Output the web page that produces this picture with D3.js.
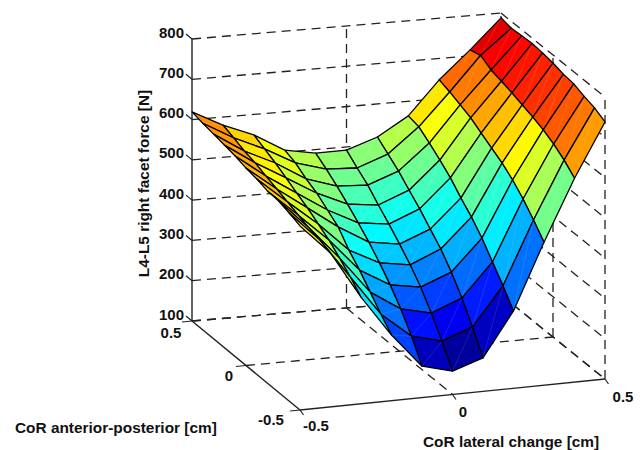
<!DOCTYPE html>
<html><head><meta charset="utf-8">
<script src="https://cdn.jsdelivr.net/npm/d3@7"></script>
<style>html,body{margin:0;padding:0;background:#fff}svg{display:block}text{font-family:"Liberation Sans",Arial,sans-serif;font-weight:bold;fill:#111}</style>
</head><body><svg id="c" width="642" height="450"></svg>
<script>
// Grid values
const lateral = [-0.5,-0.4,-0.3,-0.2,-0.1,0,0.1,0.2,0.3,0.4,0.5];
const anterior = [0.5,0.4,0.3,0.2,0.1,0,-0.1,-0.2,-0.3,-0.4,-0.5];
// facet force [N]: one row per lateral value, entries follow `anterior`
const force = [
 [619,613,608,603,598,590,585,577,575,567,557],
 [580,570,559,552,541,531,521,510,500,492,482],
 [549,536,523,508,492,477,459,441,418,393,365],
 [505,495,477,463,443,423,387,359,326,293,263],
 [491,473,452,429,404,378,348,315,277,231,178],
 [492,469,448,420,394,366,336,302,259,211,158],
 [518,497,476,450,425,396,368,332,289,238,183],
 [564,558,539,518,495,466,440,409,371,333,292],
 [647,638,627,616,599,583,567,546,520,489,455],
 [715,722,707,700,692,683,674,663,649,630,606],
 [788,783,785,787,784,780,773,770,760,752,738]
];
const colorLimits = [140,785];
const zTicks = [100,200,300,400,500,600,700,800];
const xTicks = [-0.5,0,0.5];
const yTicks = [-0.5,0,0.5];
const tickText = ["-0.5","0","0.5"];

const svg = d3.select("#c");
// floor corners of the 3-D box on screen
const BL=[192,321], FL=[300,410], FR=[605,379], BR=[501,295];
const sx = d3.scaleLinear().domain([-0.5,0.5]).range([0,1]);
const sy = d3.scaleLinear().domain([0.5,-0.5]).range([0,1]);
const sz = d3.scaleLinear().domain([100,800]).range([0,282]);
function project(x,y,z){
  const u=sx(x), v=sy(y);
  const px=(1-u)*(1-v)*BL[0]+u*(1-v)*BR[0]+(1-u)*v*FL[0]+u*v*FR[0];
  const py=(1-u)*(1-v)*BL[1]+u*(1-v)*BR[1]+(1-u)*v*FL[1]+u*v*FR[1];
  return [px,py-sz(z)];
}
const cNorm = d3.scaleLinear().domain(colorLimits).range([0,1]);
function jet(f){
  const c=v=>Math.round(255*Math.max(0,Math.min(1,v)));
  return `rgb(${c(Math.min(4*f-1.5,-4*f+4.5))},${c(Math.min(4*f-0.5,-4*f+3.5))},${c(Math.min(4*f+0.5,-4*f+2.5))})`;
}
const seg=(g,a,b,dashed,w)=>g.append("line").attr("x1",a[0]).attr("y1",a[1]).attr("x2",b[0]).attr("y2",b[1])
  .attr("stroke","#222").attr("stroke-width",w||1.3).attr("stroke-dasharray",dashed?"9 6":null);

// box grid (dashed)
const grid=svg.append("g");
zTicks.forEach(z=>{
  seg(grid,project(-0.5,0.5,z),project(0.5,0.5,z),true);
  seg(grid,project(0.5,0.5,z),project(0.5,-0.5,z),true);
});
xTicks.forEach(x=>{
  if(x>-0.5){
    seg(grid,project(x,0.5,100),project(x,-0.5,100),true);
    seg(grid,project(x,0.5,100),project(x,0.5,800),true);
  }
});
yTicks.forEach(y=>{
  if(y!==-0.5) seg(grid,project(-0.5,y,100),project(0.5,y,100),true);
  if(y<0.5) seg(grid,project(0.5,y,100),project(0.5,y,800),true);
});
// solid axes
const ax=svg.append("g");
seg(ax,project(-0.5,0.5,100),project(-0.5,0.5,800),false,1.4);
seg(ax,project(-0.5,0.5,100),project(-0.5,-0.5,100),false,1.4);
seg(ax,project(-0.5,-0.5,100),project(0.5,-0.5,100),false,1.4);
zTicks.forEach(z=>{const p=project(-0.5,0.5,z);seg(ax,p,[p[0]-6,p[1]-5],false,1.2);});
yTicks.forEach(y=>{const p=project(-0.5,y,100);seg(ax,p,[p[0]-10,p[1]+1],false,1.2);});
xTicks.forEach(x=>{const p=project(x,-0.5,100);seg(ax,p,[p[0]+3.5,p[1]+5],false,1.2);});

// surface, painted far to near
const surf=svg.append("g");
for(let i=lateral.length-2;i>=0;i--){
  for(let j=0;j<anterior.length-1;j++){
    const P=(a,b)=>project(lateral[a],anterior[b],force[a][b]);
    const q=[P(i,j),P(i+1,j),P(i+1,j+1),P(i,j+1)];
    const col=jet(cNorm(force[i][j+1]));
    surf.append("path").attr("d","M"+q.map(p=>p.join(",")).join("L")+"Z")
      .attr("fill",col).attr("stroke","#000").attr("stroke-width",1.3).attr("stroke-linejoin","round");
    surf.append("line").attr("x1",q[3][0]).attr("y1",q[3][1]).attr("x2",q[1][0]).attr("y2",q[1][1])
      .attr("stroke","#fff").attr("stroke-opacity",0.14).attr("stroke-width",0.8);
  }
}
// tick labels
const T=(s,x,y,a,fs,rot)=>{const t=svg.append("text").attr("x",x).attr("y",y).attr("text-anchor",a||"middle")
  .attr("font-size",fs||15).text(s); if(rot) t.attr("transform",`rotate(${rot} ${x} ${y})`); return t;};
zTicks.forEach(z=>{const p=project(-0.5,0.5,z);T(z,184,p[1]-1.5,"end");});
const yLabX=[271,229,171], yLabY=[425,381,338];
yTicks.forEach((y,k)=>T(tickText[k],yLabX[k],yLabY[k]));
const xLabX=[316,463,623], xLabY=[431,417,402];
xTicks.forEach((x,k)=>T(tickText[k],xLabX[k],xLabY[k]));
T("CoR anterior-posterior [cm]",15,433,"start",15.4);
T("CoR lateral change [cm]",423,447,"start",15.4);
T("L4-L5 right facet force [N]",149,183.5,"middle",15.4,-90);
</script></body></html>
